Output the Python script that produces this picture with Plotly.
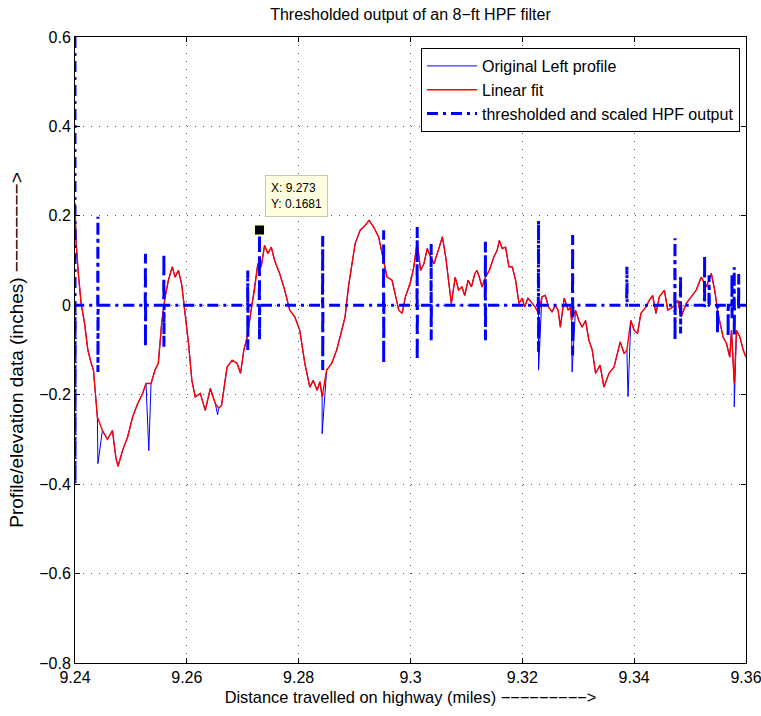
import plotly.graph_objects as go

# ---------------- data ----------------
dist = [9.2400, 9.2402, 9.2406, 9.2411, 9.2417, 9.2423, 9.2429, 9.2433, 9.2436, 9.2440,
        9.2449, 9.2458, 9.2467, 9.2473, 9.2477, 9.2485, 9.2494, 9.2503, 9.2512, 9.2521,
        9.2527, 9.2536, 9.2543, 9.2549, 9.2555, 9.2561, 9.2567, 9.2574, 9.2579, 9.2585,
        9.2591, 9.2597, 9.2603, 9.2609, 9.2615, 9.2624, 9.2633, 9.2642, 9.2651, 9.2657,
        9.2662, 9.2672, 9.2681, 9.2690, 9.2696, 9.2702, 9.2708, 9.2715, 9.2721, 9.2727,
        9.2733, 9.2739, 9.2745, 9.2751, 9.2757, 9.2766, 9.2775, 9.2784, 9.2793, 9.2802,
        9.2811, 9.2820, 9.2826, 9.2833, 9.2838, 9.2842, 9.2850, 9.2859, 9.2868, 9.2874,
        9.2883, 9.2889, 9.2895, 9.2901, 9.2910, 9.2919, 9.2926, 9.2934, 9.2943, 9.2950,
        9.2958, 9.2967, 9.2973, 9.2979, 9.2985, 9.2991, 9.3000, 9.3006, 9.3012, 9.3018,
        9.3024, 9.3030, 9.3036, 9.3042, 9.3048, 9.3057, 9.3063, 9.3069, 9.3073, 9.3080,
        9.3086, 9.3092, 9.3097, 9.3103, 9.3109, 9.3115, 9.3119, 9.3123, 9.3128, 9.3134,
        9.3141, 9.3149, 9.3155, 9.3159, 9.3164, 9.3170, 9.3176, 9.3182, 9.3188, 9.3194,
        9.3200, 9.3204, 9.3210, 9.3216, 9.3223, 9.3229, 9.3235, 9.3241, 9.3247, 9.3253,
        9.3259, 9.3264, 9.3268, 9.3272, 9.3275, 9.3282, 9.3286, 9.3288, 9.3295, 9.3301,
        9.3307, 9.3313, 9.3319, 9.3325, 9.3331, 9.3339, 9.3346, 9.3355, 9.3364, 9.3370,
        9.3375, 9.3382, 9.3387, 9.3394, 9.3400, 9.3406, 9.3412, 9.3421, 9.3427, 9.3433,
        9.3439, 9.3445, 9.3454, 9.3460, 9.3469, 9.3478, 9.3484, 9.3493, 9.3502, 9.3511,
        9.3520, 9.3529, 9.3538, 9.3544, 9.3550, 9.3559, 9.3565, 9.3571, 9.3574, 9.3579,
        9.3583, 9.3589, 9.3595, 9.3600]
fit = [0.228, 0.140, 0.070, 0.004, -0.040, -0.100, -0.130, -0.145, -0.190, -0.250,
       -0.280, -0.300, -0.280, -0.340, -0.360, -0.325, -0.295, -0.250, -0.220, -0.197,
       -0.175, -0.175, -0.145, -0.130, -0.040, 0.018, 0.056, 0.086, 0.063, 0.078,
       0.045, -0.018, -0.085, -0.168, -0.205, -0.197, -0.235, -0.186, -0.220, -0.230,
       -0.224, -0.138, -0.123, -0.130, -0.152, -0.100, -0.071, -0.011, 0.034, 0.093,
       0.086, 0.134, 0.116, 0.130, 0.100, 0.071, 0.034, -0.011, -0.026, -0.056,
       -0.130, -0.183, -0.168, -0.190, -0.171, -0.205, -0.145, -0.130, -0.100, -0.071,
       -0.026, 0.041, 0.093, 0.138, 0.168, 0.179, 0.190, 0.175, 0.153, 0.108,
       0.063, 0.056, 0.019, -0.011, -0.018, 0.019, 0.052, 0.086, 0.142, 0.078,
       0.093, 0.127, 0.108, 0.093, 0.116, 0.153, 0.108, 0.041, 0.004, 0.063,
       0.034, 0.041, 0.022, 0.056, 0.041, 0.071, 0.078, 0.063, 0.041, 0.063,
       0.078, 0.108, 0.123, 0.145, 0.127, 0.130, 0.086, 0.086, 0.056, 0.004,
       0.016, -0.004, 0.016, 0.007, -0.004, -0.018, 0.019, 0.022, -0.004, -0.015,
       0.000, -0.011, -0.049, -0.011, 0.016, -0.011, -0.004, -0.034, -0.011, -0.034,
       -0.049, -0.034, -0.078, -0.100, -0.152, -0.134, -0.183, -0.152, -0.138, -0.108,
       -0.082, -0.108, -0.100, -0.034, -0.056, -0.063, -0.018, -0.004, 0.011, 0.022,
       -0.018, 0.019, 0.034, -0.011, -0.004, 0.011, -0.026, 0.004, 0.019, 0.034,
       0.063, 0.041, 0.071, 0.034, -0.018, -0.071, -0.085, -0.116, -0.056, -0.175,
       -0.056, -0.071, -0.100, -0.116]

# downward glitches visible only in the original (blue) profile
glitch_dist = [9.2441, 9.2532, 9.2655, 9.2842, 9.3229, 9.3289, 9.3389, 9.3579]
glitch_val = [-0.354, -0.325, -0.245, -0.287, -0.145, -0.149, -0.204, -0.227]

# thresholded & scaled HPF output: spikes (position, upper value, lower value)
hpf_dist = [9.2400, 9.2441, 9.2526, 9.2559, 9.2709, 9.2730, 9.2843, 9.2952, 9.3012,
            9.3037, 9.3134, 9.3229, 9.3290, 9.3387, 9.3473, 9.3483, 9.3526, 9.3534,
            9.3549, 9.3568, 9.3575, 9.3579, 9.3587]
hpf_top = [0.600, 0.198, 0.115, 0.116, 0.078, 0.1681, 0.155, 0.168, 0.175,
           0.138, 0.142, 0.190, 0.157, 0.086, 0.150, 0.067, 0.112, 0.067,
           0.000, 0.000, 0.070, 0.085, 0.070]
hpf_bottom = [-0.400, -0.149, -0.093, -0.093, -0.100, -0.078, -0.145, -0.130, -0.123,
              -0.078, -0.078, -0.104, -0.112, 0.000, -0.078, -0.063, -0.004, 0.000,
              -0.063, -0.070, -0.030, -0.070, -0.010]

tip_x, tip_y = 9.273, 0.1681

x_ticks = [9.24, 9.26, 9.28, 9.30, 9.32, 9.34, 9.36]
x_ticktext = ["9.24", "9.26", "9.28", "9.3", "9.32", "9.34", "9.36"]
y_ticks = [-0.8, -0.6, -0.4, -0.2, 0.0, 0.2, 0.4, 0.6]
y_ticktext = ["\u22120.8", "\u22120.6", "\u22120.4", "\u22120.2", "0", "0.2", "0.4", "0.6"]

# ---------------- build series ----------------
# original profile = fit curve with its glitches merged in
pts = list(zip(dist, fit)) + list(zip(glitch_dist, glitch_val))
pts.sort(key=lambda p: p[0])
orig_x = [p[0] for p in pts]
orig_y = [p[1] for p in pts]

# HPF trace: zero baseline with vertical spikes
eps = 0.00004
hx, hy = [], []
for d, t, b in zip(hpf_dist, hpf_top, hpf_bottom):
    if hx:
        hx.append(d - eps); hy.append(0.0)
    hx += [d, d]; hy += [t, b]
    hx.append(d + eps); hy.append(0.0)
hx.append(x_ticks[-1]); hy.append(0.0)

FONT = "Liberation Sans, Arial, Helvetica, sans-serif"

fig = go.Figure()
fig.add_trace(go.Scatter(x=orig_x, y=orig_y, mode="lines", name="Original Left profile",
                         line=dict(color="#0000FF", width=1)))
fig.add_trace(go.Scatter(x=dist, y=fit, mode="lines", name="Linear fit",
                         line=dict(color="#FF0000", width=1.4)))
fig.add_trace(go.Scatter(x=hx, y=hy, mode="lines", name="thresholded and scaled HPF output",
                         line=dict(color="#0000FF", width=3, dash="11px,5px,3px,5px")))
fig.add_trace(go.Scatter(x=[tip_x], y=[tip_y], mode="markers", showlegend=False,
                         marker=dict(symbol="square", size=11, color="black",
                                     line=dict(color="#FFFFD8", width=2))))

fig.add_annotation(x=tip_x, y=tip_y, xref="x", yref="y", showarrow=False,
                   text="X: 9.273<br>Y: 0.1681", align="left",
                   xanchor="left", yanchor="bottom", xshift=5, yshift=13,
                   bgcolor="#FFFFE1", bordercolor="#C8C8A8", borderwidth=1, borderpad=5,
                   font=dict(family=FONT, size=12, color="black"))

axis_common = dict(showline=True, linecolor="black", linewidth=1, mirror="ticks",
                   ticks="inside", ticklen=5, tickcolor="black",
                   showgrid=True, gridcolor="#555555", gridwidth=1, griddash="1px,7px",
                   zeroline=False, ticklabeloverflow="allow", automargin=False,
                   tickfont=dict(family=FONT, size=16, color="black"))

fig.update_layout(
    width=761, height=716,
    margin=dict(l=75, r=15, t=37, b=53, autoexpand=False),
    paper_bgcolor="white", plot_bgcolor="white",
    font=dict(family=FONT, color="black"),
    title=dict(text="Thresholded output of an 8\u2212ft HPF filter", x=0.5, xref="paper",
               xanchor="center", y=1 - 14 / 716, yanchor="middle",
               font=dict(family=FONT, size=16, color="black")),
    xaxis=dict(range=[x_ticks[0], x_ticks[-1]], tickvals=x_ticks, ticktext=x_ticktext,
               title=dict(text="Distance travelled on highway (miles) " + "\u2212" * 9 + ">",
                          font=dict(family=FONT, size=16.4, color="black"), standoff=6),
               **axis_common),
    yaxis=dict(range=[y_ticks[0], y_ticks[-1]], tickvals=y_ticks, ticktext=y_ticktext,
               title=dict(text="Profile/elevation data (inches) " + "\u2212" * 8 + ">",
                          font=dict(family=FONT, size=19, color="black"), standoff=10),
               **axis_common),
    legend=dict(x=(740 - 75) / 671, y=(663 - 48) / 626, xanchor="right", yanchor="top",
                bgcolor="white", bordercolor="black", borderwidth=1,
                font=dict(family=FONT, size=16, color="black"),
                itemwidth=50, tracegroupgap=0),
    showlegend=True,
)

fig.write_html("out.html")
